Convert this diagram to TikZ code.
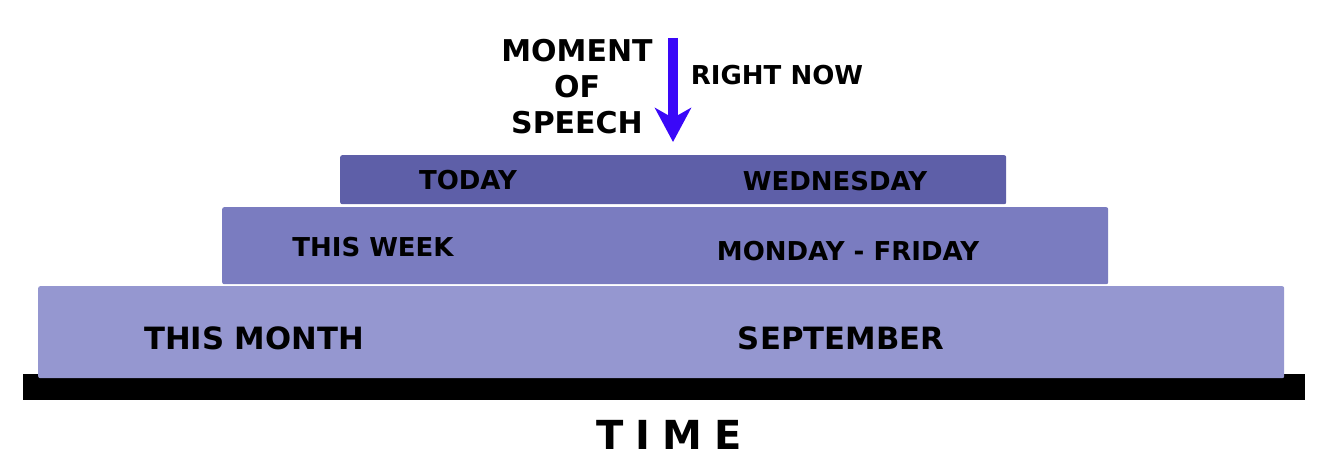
\documentclass[tikz,border=0pt]{standalone}
\usepackage{fontspec}
\setmainfont{DejaVu Sans}
\usetikzlibrary{arrows.meta}

\definecolor{todaycol}{HTML}{5E5FA8}
\definecolor{weekcol}{HTML}{7A7CC0}
\definecolor{monthcol}{HTML}{9597D0}
\definecolor{nowcol}{HTML}{3A08F8}

\tikzset{
	span/.style={rectangle,draw=none,anchor=north west,inner sep=0pt,rounded corners=2pt},
	lbl/.style={inner sep=0pt,font=\bfseries\fontsize{26}{31}\selectfont},
	biglbl/.style={inner sep=0pt,font=\bfseries\fontsize{30.7}{36}\selectfont}
}

\begin{document}
\begin{tikzpicture}[x=1pt,y=-1pt]
	\useasboundingbox (0,0) rectangle (1334,462);

	% time line and the three spans
	\node[span,fill=black,rounded corners=0pt,minimum width=1282pt,minimum height=26pt] (bar) at (23,374) {};
	\node[span,fill=monthcol,minimum width=1246pt,minimum height=92pt] (month) at (38,286) {};
	\node[span,fill=weekcol,minimum width=886pt,minimum height=77pt] (week) at (222,207) {};
	\node[span,fill=todaycol,minimum width=666pt,minimum height=49pt] (today) at (340,155) {};

	\node[lbl] (tdy) at (468,180) {TODAY};
	\node[lbl] (wed) at (835,181) {WEDNESDAY};
	\node[lbl] (thw) at (373,247) {THIS WEEK};
	\node[lbl] (mof) at (848,251) {MONDAY - FRIDAY};
	\node[biglbl] (thm) at (254,338) {THIS MONTH};
	\node[biglbl] (sep) at (841,338) {SEPTEMBER};

	\node[inner sep=0pt,font=\bfseries\fontsize{40}{48}\selectfont] (time) at (669,435)
		{T\hspace{12pt}I\hspace{12pt}M\hspace{12pt}E};

	% moment of speech
	\node[inner sep=0pt,font=\bfseries\fontsize{30}{36}\selectfont,align=center] (mos) at (577,87) {MOMENT\\OF\\SPEECH};
	\node[lbl] (now) at (777,75) {RIGHT NOW};
	\coordinate (nowtop) at (673,38);
	\coordinate (nowtip) at (673,142);
	\draw[nowcol,line width=10pt,-{Stealth[width=36pt,length=34pt,inset=10pt]}] (nowtop) -- (nowtip);
\end{tikzpicture}
\end{document}
